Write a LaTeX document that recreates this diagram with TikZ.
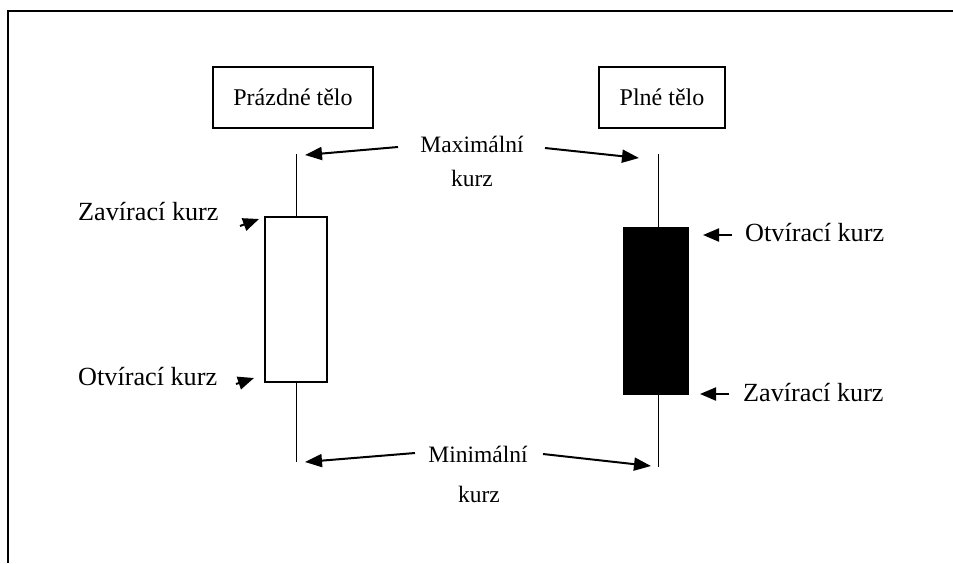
\documentclass[tikz,border=0pt]{standalone}
\usepackage{fontspec}
\setmainfont{Liberation Serif}
\usetikzlibrary{arrows.meta}
\begin{document}
\begin{tikzpicture}[x=1pt,y=-1pt,
  lbl/.style={inner sep=0pt,font=\fontsize{26.2}{30}\selectfont},
  midlbl/.style={inner sep=0pt,font=\fontsize{23.5}{28}\selectfont},
  headbox/.style={draw,line width=1.2pt,minimum height=61pt,inner sep=0pt,font=\fontsize{24}{28}\selectfont},
  wick/.style={line width=1pt},
  arr/.style={line width=2pt,-{Triangle[length=17pt,width=13pt]}},
  sarr/.style={line width=2pt,-{Triangle[length=16pt,width=13pt]}}]
\useasboundingbox (0,0) rectangle (953,563);
% frame
\draw[line width=2pt] (953,11) -- (8,11) -- (8,563);
% header boxes
\node[headbox,minimum width=160pt] (empty) at (293,97.5) {Prázdné tělo};
\node[headbox,minimum width=126pt] (full) at (662,97.5) {Plné tělo};
% left candle
\coordinate (lhigh) at (296,154);
\coordinate (llow) at (296,462);
\node[draw,line width=2pt,fill=white,minimum width=62pt,minimum height=165pt,inner sep=0pt] (lbody) at (296,299.5) {};
\draw[wick] (lhigh) -- (lbody.north);
\draw[wick] (lbody.south) -- (llow);
% right candle
\coordinate (rhigh) at (658,154);
\coordinate (rlow) at (658,467);
\node[draw,line width=1pt,fill=black,minimum width=65pt,minimum height=167pt,inner sep=0pt] (rbody) at (655.5,310.5) {};
\draw[wick] (rhigh) -- (rhigh |- rbody.north);
\draw[wick] (rlow |- rbody.south) -- (rlow);
% max
\node[midlbl,anchor=base] (max1) at (472,152) {Maximální};
\node[midlbl,anchor=base] (max2) at (472,186) {kurz};
\coordinate (maxL) at (398,147);
\coordinate (maxR) at (545,148);
\coordinate (maxLt) at (305,155);
\coordinate (maxRt) at (639,158);
\draw[arr] (maxL) -- (maxLt);
\draw[arr] (maxR) -- (maxRt);
% min
\node[midlbl,anchor=base] (min1) at (478,462) {Minimální};
\node[midlbl,anchor=base] (min2) at (479,502) {kurz};
\coordinate (minL) at (415,453);
\coordinate (minR) at (543,454);
\coordinate (minLt) at (305,462);
\coordinate (minRt) at (651,466);
\draw[arr] (minL) -- (minLt);
\draw[arr] (minR) -- (minRt);
% left labels
\node[lbl,anchor=base west] (lclose) at (78,220) {Zavírací kurz};
\node[lbl,anchor=base west] (lopen) at (78,385) {Otvírací kurz};
\coordinate (lcloseA) at (240,226);
\coordinate (lcloseT) at (259,219);
\coordinate (lopenA) at (236,384);
\coordinate (lopenT) at (254,378);
\draw[sarr] (lcloseA) -- (lcloseT);
\draw[sarr] (lopenA) -- (lopenT);
% right labels
\node[lbl,anchor=base west] (ropen) at (745,241) {Otvírací kurz};
\node[lbl,anchor=base west] (rclose) at (743,401) {Zavírací kurz};
\coordinate (ropenA) at (732,235);
\coordinate (ropenT) at (703,235);
\coordinate (rcloseA) at (729,394);
\coordinate (rcloseT) at (700,394);
\draw[sarr] (ropenA) -- (ropenT);
\draw[sarr] (rcloseA) -- (rcloseT);
\end{tikzpicture}
\end{document}
